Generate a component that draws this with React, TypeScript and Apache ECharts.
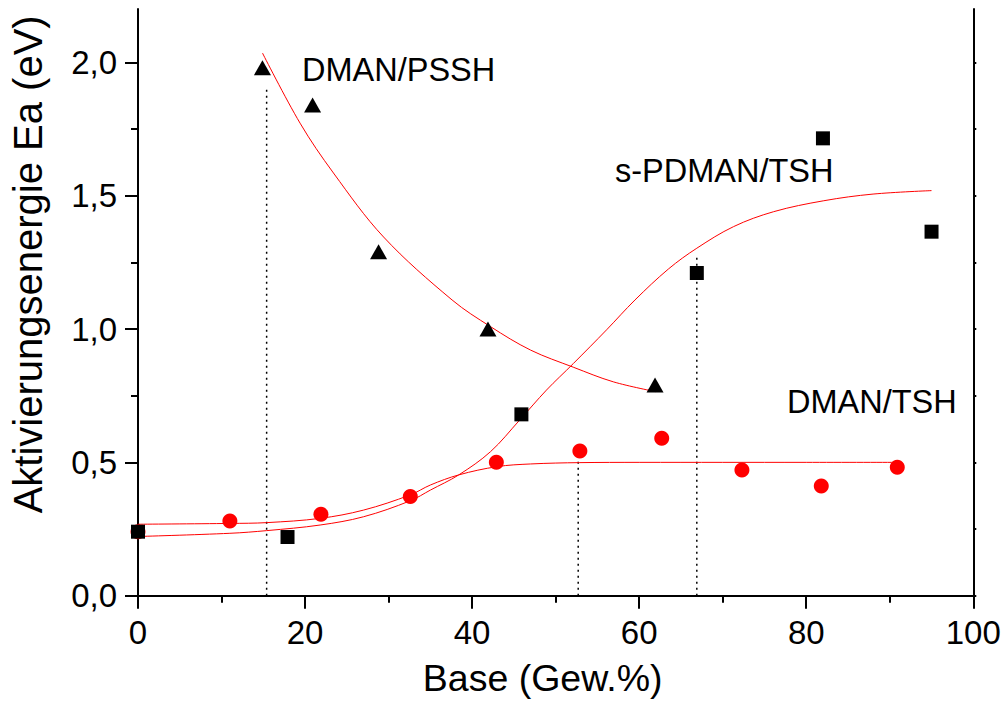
import React, { useEffect, useRef } from "react";
import * as echarts from "echarts";

// Measured activation energies (Base in Gew.%, Ea in eV)
const psshX = [14.9, 20.9, 28.8, 41.9, 61.9];
const psshY = [1.98, 1.84, 1.29, 1.0, 0.79];

const sPdmanX = [0, 17.9, 45.9, 66.9, 82.0, 95.0];
const sPdmanY = [0.24, 0.22, 0.68, 1.21, 1.715, 1.365];

const dmanTshX = [0, 11.0, 21.9, 32.6, 42.9, 52.9, 62.7, 72.3, 81.8, 90.9];
const dmanTshY = [0.24, 0.28, 0.305, 0.372, 0.5, 0.543, 0.59, 0.471, 0.411, 0.482];

// Fit curves, sampled along each drawn curve
const psshFitX = [14.9, 19.4, 23.4, 29.4, 37.6, 42.2, 47.0, 52.1, 56.9, 62.0];
const psshFitY = [2.035, 1.772, 1.585, 1.345, 1.109, 1.009, 0.921, 0.857, 0.802, 0.765];

const sPdmanFitX = [0, 11.0, 15.4, 21.8, 27.0, 32.6, 35.0, 38.4, 42.2, 45.7, 48.9, 52.1, 56.1, 59.5, 63.5, 66.9, 71.3, 76.1, 82.1, 88.0, 95.0];
const sPdmanFitY = [0.222, 0.234, 0.244, 0.265, 0.296, 0.356, 0.396, 0.453, 0.54, 0.659, 0.771, 0.87, 0.997, 1.109, 1.225, 1.303, 1.384, 1.44, 1.481, 1.506, 1.519];

const dmanTshFitX = [0, 11.0, 15.4, 21.8, 27.0, 32.6, 35.0, 38.4, 43.0, 47.0, 52.9, 60, 70, 80, 90.9];
const dmanTshFitY = [0.268, 0.271, 0.274, 0.29, 0.321, 0.378, 0.415, 0.453, 0.484, 0.494, 0.499, 0.5, 0.5, 0.5, 0.5];

// Vertical dotted guide lines: x position and height
const guideX = [15.4, 52.7, 66.9];
const guideTop = [1.9, 0.52, 1.28];

// Axis ticks
const yMajorTicks = [0, 0.5, 1.0, 1.5, 2.0];
const yMinorTicks = [0.25, 0.75, 1.25, 1.75];
const yRightTicks = [0, 0.25, 0.5, 0.75, 1.0, 1.25, 1.5, 1.75, 2.0];

const pairs = (xs: number[], ys: number[]) => xs.map((x, i) => [x, ys[i]]);

const FONT = "'Liberation Sans', Arial, sans-serif";

export default function App() {
  const ref = useRef<HTMLDivElement>(null);

  useEffect(() => {
    if (!ref.current) return;
    const chart = echarts.init(ref.current, null, { renderer: "svg" });

    const axisLine = { show: true, lineStyle: { color: "#000", width: 2 } };
    const fmt = (v: number) => v.toFixed(1).replace(".", ",");

    const guides = guideX.map((x, i) => ({
      type: "line",
      data: [
        [x, 0],
        [x, guideTop[i]],
      ],
      showSymbol: false,
      symbol: "none",
      silent: true,
      lineStyle: { color: "#000", width: 1.5, type: [2, 4] },
      z: 1,
    }));

    const fitLine = (xs: number[], ys: number[]) => ({
      type: "line",
      data: pairs(xs, ys),
      smooth: 0.35,
      symbol: "none",
      showSymbol: false,
      lineStyle: { color: "#ff0000", width: 1 },
      z: 2,
    });

    const annotation = (text: string, x: number, y: number) => ({
      type: "text",
      x,
      y,
      silent: true,
      style: { text, fontSize: 32.5, fontFamily: FONT, fill: "#000", verticalAlign: "middle", align: "left" },
    });

    chart.setOption({
      animation: false,
      backgroundColor: "#fff",
      textStyle: { fontFamily: FONT },
      grid: { left: 137.5, right: 30.7, top: 9, bottom: 110.3, containLabel: false },
      xAxis: [
        {
          type: "value",
          min: 0,
          max: 100,
          interval: 20,
          position: "bottom",
          name: "Base (Gew.%)",
          nameLocation: "middle",
          nameGap: 63,
          nameTextStyle: { fontSize: 37.5, color: "#000", fontFamily: FONT, padding: [0, 26, 0, 0] },
          axisLine,
          axisTick: { show: true, inside: false, length: 13, lineStyle: { color: "#000", width: 2 } },
          minorTick: { show: true, splitNumber: 2, length: 7, lineStyle: { color: "#000", width: 2 } },
          axisLabel: { fontSize: 33, color: "#000", margin: 37, verticalAlign: "middle", fontFamily: FONT },
          splitLine: { show: false },
          minorSplitLine: { show: false },
        },
        {
          type: "value",
          min: 0,
          max: 100,
          interval: 10,
          position: "top",
          axisLine,
          axisTick: { show: true, inside: true, length: 3, lineStyle: { color: "#000", width: 2 } },
          axisLabel: { show: false },
          splitLine: { show: false },
        },
      ],
      yAxis: [
        {
          type: "value",
          min: 0,
          max: 2.2,
          position: "left",
          name: "Aktivierungsenergie Ea (eV)",
          nameLocation: "middle",
          nameGap: 90,
          nameTextStyle: { fontSize: 40, color: "#000", fontFamily: FONT, padding: [0, 0, 0, 76] },
          axisLine,
          axisTick: { show: true, inside: false, length: 13, customValues: yMajorTicks, lineStyle: { color: "#000", width: 2 } },
          axisLabel: { fontSize: 33, color: "#000", margin: 21, customValues: yMajorTicks, formatter: fmt, fontFamily: FONT },
          splitLine: { show: false },
        },
        {
          type: "value",
          min: 0,
          max: 2.2,
          position: "left",
          axisLine: { show: false },
          axisTick: { show: true, inside: false, length: 7, customValues: yMinorTicks, lineStyle: { color: "#000", width: 2 } },
          axisLabel: { show: false },
          splitLine: { show: false },
        },
        {
          type: "value",
          min: 0,
          max: 2.2,
          position: "right",
          axisLine,
          axisTick: { show: true, inside: false, length: 3, customValues: yRightTicks, lineStyle: { color: "#000", width: 2 } },
          axisLabel: { show: false },
          splitLine: { show: false },
        },
      ],
      graphic: [
        annotation("DMAN/PSSH", 302, 70),
        annotation("s-PDMAN/TSH", 615, 170.5),
        annotation("DMAN/TSH", 787, 402),
      ],
      series: [
        ...guides,
        fitLine(psshFitX, psshFitY),
        fitLine(sPdmanFitX, sPdmanFitY),
        fitLine(dmanTshFitX, dmanTshFitY),
        {
          name: "DMAN/TSH",
          type: "scatter",
          data: pairs(dmanTshX, dmanTshY),
          symbol: "circle",
          symbolSize: 15,
          clip: false,
          itemStyle: { color: "#ff0000", opacity: 1 },
          z: 3,
        },
        {
          name: "s-PDMAN/TSH",
          type: "scatter",
          data: pairs(sPdmanX, sPdmanY),
          symbol: "rect",
          symbolSize: 14,
          clip: false,
          itemStyle: { color: "#000", opacity: 1 },
          z: 4,
        },
        {
          name: "DMAN/PSSH",
          type: "scatter",
          data: pairs(psshX, psshY),
          symbol: "triangle",
          symbolSize: [17, 15],
          clip: false,
          itemStyle: { color: "#000", opacity: 1 },
          z: 4,
        },
      ],
    });

    return () => chart.dispose();
  }, []);

  return (
    <div
      ref={ref}
      style={{ position: "absolute", left: 0, top: 0, width: 1004, height: 706 }}
    />
  );
}
